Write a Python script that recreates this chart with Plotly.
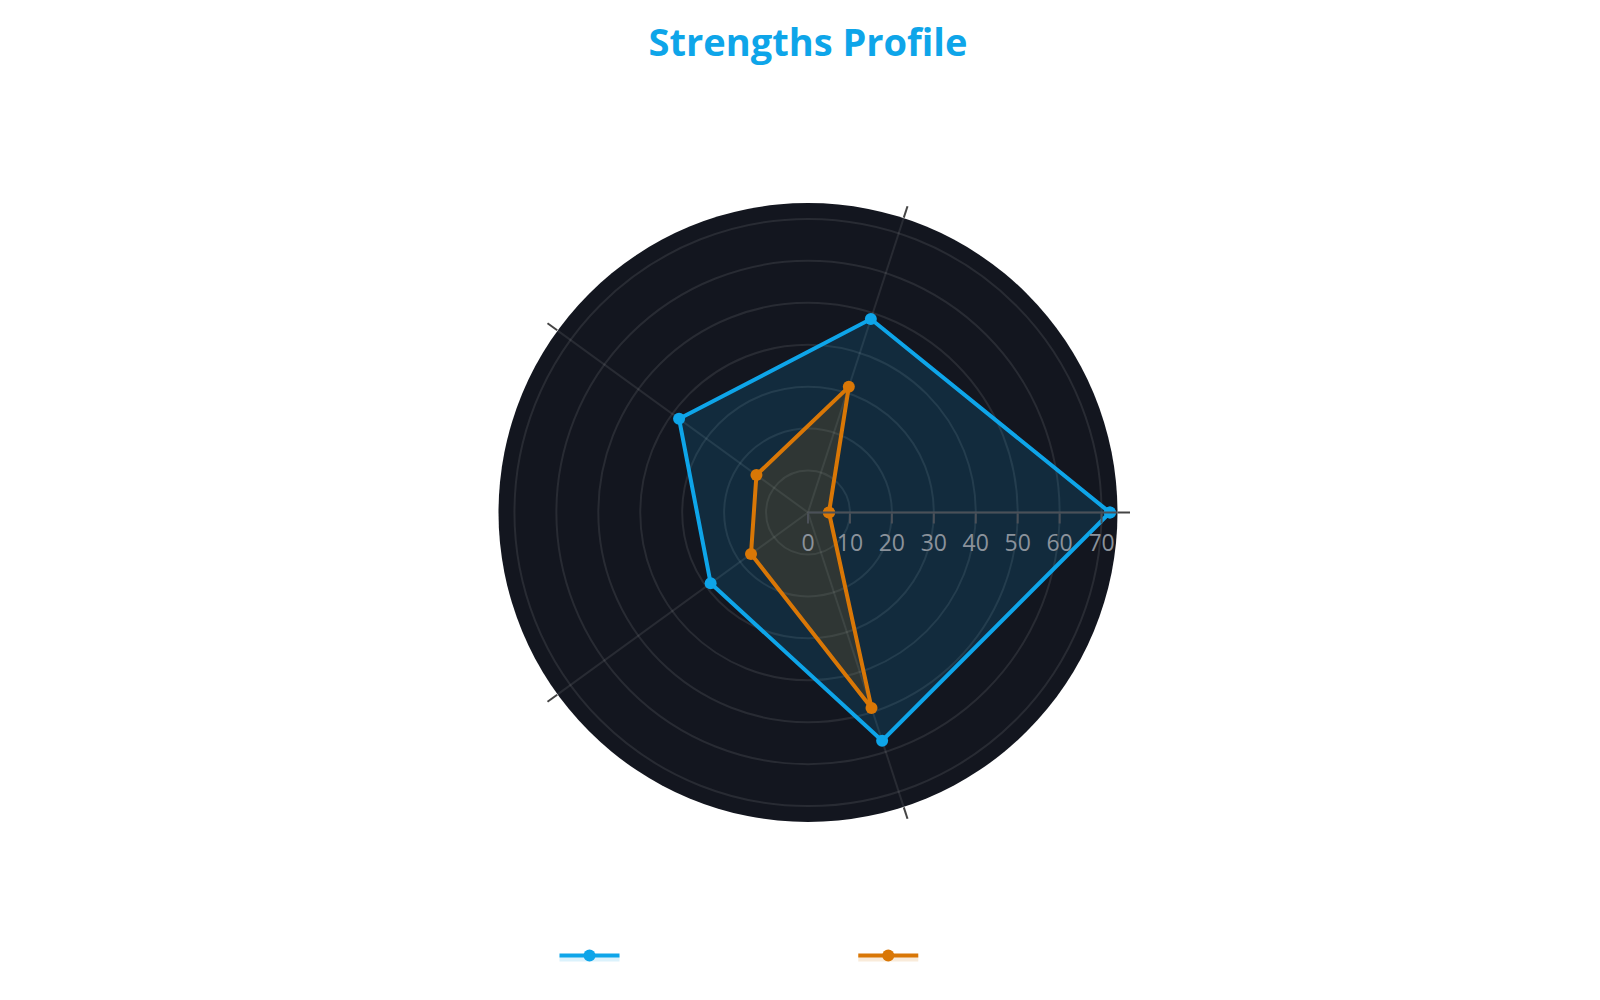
import plotly.graph_objects as go

# Strength themes (angular categories)
categories = ["Strategic Thinking", "Executing", "Influencing", "Relationship Building", "Learning"]

# Series values
series_names = ["Current Strengths Score", "Team Average"]
current_scores = [72, 48.5, 38, 28.7, 57.2]
team_scores = [5, 31.5, 15.2, 16.8, 49]

BLUE = "#0ea5e9"
ORANGE = "#d97706"


def closed(values):
    """Repeat the first point so the radar polygon closes."""
    return list(values) + [values[0]]


fig = go.Figure()

fig.add_trace(go.Scatterpolar(
    r=closed(current_scores),
    theta=closed(categories),
    name=series_names[0],
    mode="lines+markers",
    fill="toself",
    fillcolor="rgba(14,165,233,0.15)",
    line=dict(color=BLUE, width=4),
    marker=dict(color=BLUE, size=12),
))

fig.add_trace(go.Scatterpolar(
    r=closed(team_scores),
    theta=closed(categories),
    name=series_names[1],
    mode="lines+markers",
    fill="toself",
    fillcolor="rgba(217,119,6,0.15)",
    line=dict(color=ORANGE, width=4),
    marker=dict(color=ORANGE, size=12),
))

fig.update_layout(
    width=1600,
    height=1000,
    paper_bgcolor="white",
    plot_bgcolor="white",
    font=dict(family="Open Sans, Noto Sans, sans-serif", color="white", size=20),
    title=dict(
        text="<b>Strengths Profile</b>",
        x=0.5,
        xanchor="center",
        y=0.965,
        yanchor="middle",
        font=dict(size=38, color=BLUE, family="Open Sans, Noto Sans, sans-serif"),
    ),
    margin=dict(l=80, r=80, t=195, b=186),
    polar=dict(
        bgcolor="#13161f",
        radialaxis=dict(
            range=[0, 73.8],
            dtick=10,
            tick0=0,
            showline=True,
            linecolor="#4b5058",
            linewidth=2,
            gridcolor="rgba(255,255,255,0.09)",
            gridwidth=2,
            ticks="outside",
            ticklen=10,
            tickwidth=2,
            tickcolor="#4b5058",
            tickfont=dict(size=23, color="#8b929b"),
        ),
        angularaxis=dict(
            rotation=0,
            direction="counterclockwise",
            showline=False,
            gridcolor="rgba(255,255,255,0.09)",
            gridwidth=2,
            ticks="outside",
            ticklen=12,
            tickwidth=2,
            tickcolor="#444444",
            tickfont=dict(size=24, color="white"),
        ),
    ),
    showlegend=True,
    legend=dict(
        orientation="h",
        x=0.5,
        xanchor="center",
        y=-0.184,
        yanchor="top",
        itemwidth=60,
        font=dict(size=20, color="white"),
    ),
)

fig.write_html("out.html")
